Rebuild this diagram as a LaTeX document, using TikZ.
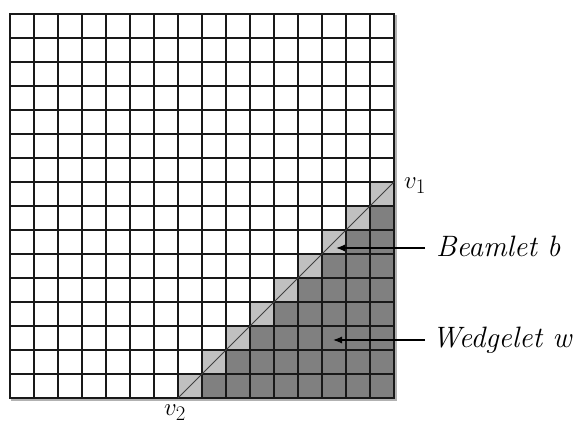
\documentclass[tikz,border=0pt]{standalone}
\usetikzlibrary{arrows.meta}
\definecolor{darkcell}{HTML}{808080}
\definecolor{lightcell}{HTML}{C0C0C0}
\tikzset{
  gridline/.style={line width=1.8pt, black!90},
  shadowline/.style={line width=1.2pt, black!30},
  lab/.style={inner sep=0pt, anchor=base west, font=\fontsize{29.5}{34}\selectfont\itshape},
  vlab/.style={inner sep=0pt, anchor=base west, font=\fontsize{30}{34}\selectfont},
  pointer/.style={line width=1.2pt, -{Latex[length=9pt,width=7pt]}},
  beamline/.style={line width=0.9pt, black!75},
}
\begin{document}
\begin{tikzpicture}[x=1pt,y=-1pt]
\useasboundingbox[fill=white] (0,0) rectangle (581,427);
\begin{scope}[shift={(10pt,-398pt)}, x=24pt, y=24pt]
  % shadow
  \draw[shadowline] (0.05,-0.08) -- (16.08,-0.08) -- (16.08,15.95);
  % wedge cells
  \foreach \j in {0,...,8} {
    \pgfmathtruncatemacro\i{\j+7}
    \fill[lightcell] (\i,\j) rectangle ++(1,1);
  }
  \foreach \j in {0,...,7} {
    \pgfmathtruncatemacro\i{\j+8}
    \fill[darkcell] (\i,\j) rectangle (16,\j+1);
  }
  % grid
  \foreach \k in {0,...,16} {
    \draw[gridline] (\k,0) -- (\k,16);
    \draw[gridline] (0,\k) -- (16,\k);
  }
  \draw[gridline] (0,0) rectangle (16,16);
  % beamlet
  \coordinate (p2) at (7,0);
  \coordinate (p1) at (16,9);
  \draw[beamline] (p2) -- (p1);
\end{scope}
% labels
\node[vlab] (v1) at (404,189) {$v_1$};
\node[vlab] (v2) at (164,416) {$v_2$};
\node[lab] (beam) at (436,257) {Beamlet b};
\node[lab] (wedge) at (432,348) {Wedgelet w};
% pointers
\coordinate (bs) at (425,248);
\coordinate (bt) at (336,248);
\coordinate (ws) at (425,340);
\coordinate (wt) at (333,340);
\draw[pointer] (bs) -- (bt);
\draw[pointer] (ws) -- (wt);
\end{tikzpicture}
\end{document}
